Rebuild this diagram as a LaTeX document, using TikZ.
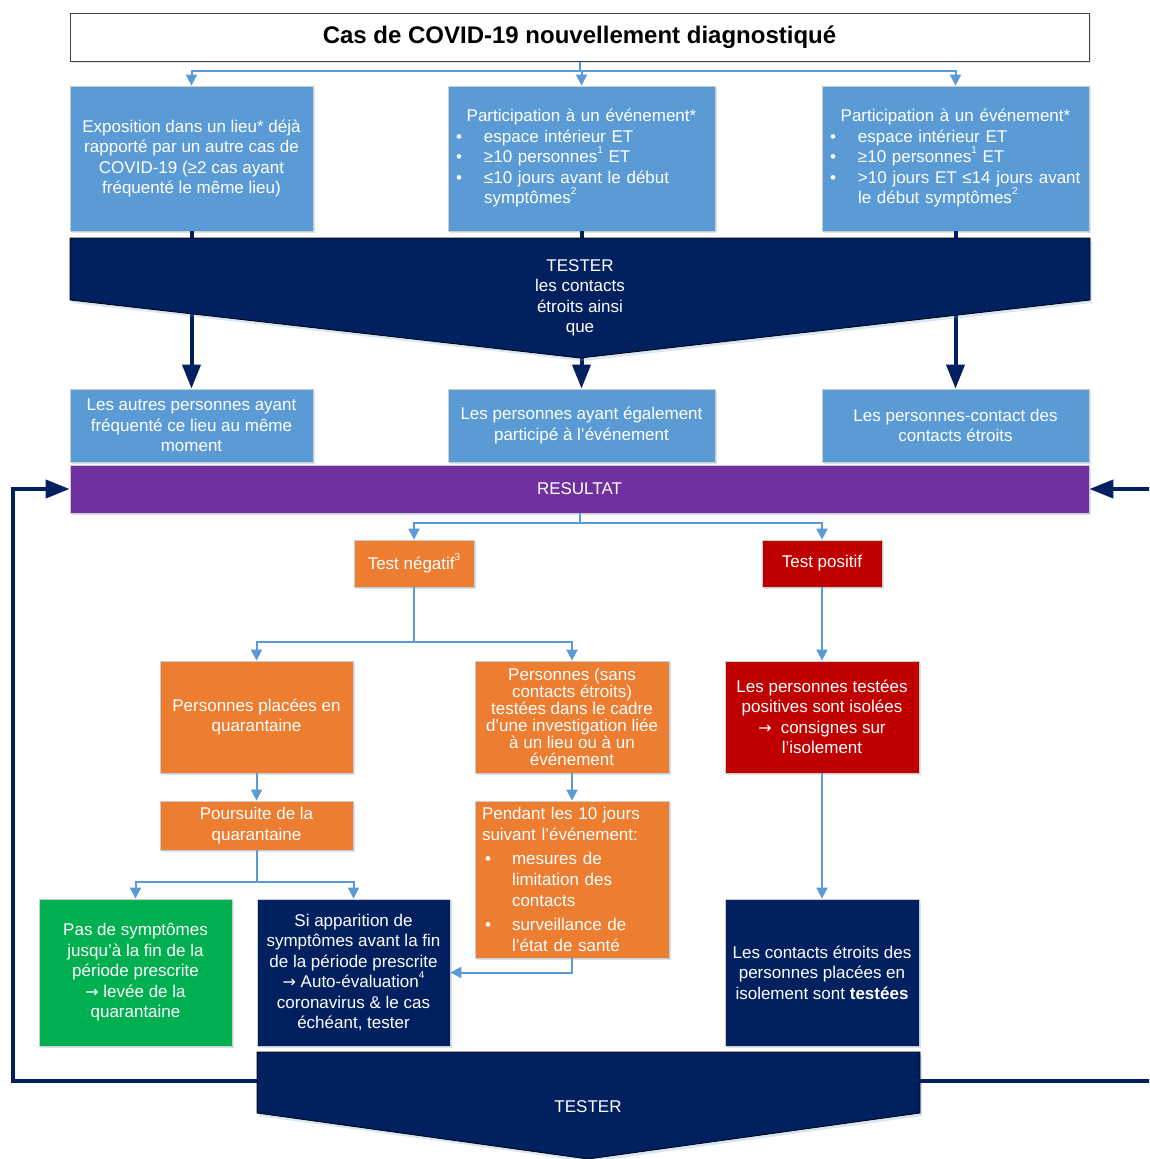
\documentclass[tikz,border=0pt]{standalone}
\usepackage{fontspec}
\setmainfont{Liberation Sans}
\newfontfamily\djv{DejaVu Sans}
\usetikzlibrary{arrows.meta,shadows}
\definecolor{lblue}{HTML}{5B9BD5}
\definecolor{navy}{HTML}{002060}
\definecolor{purp}{HTML}{7030A0}
\definecolor{orng}{HTML}{ED7D31}
\definecolor{dred}{HTML}{C00000}
\definecolor{grn}{HTML}{00B050}
\newcommand\supx[1]{\raisebox{0.55em}{\fontsize{10}{10}\selectfont #1}}
\newcommand\bul{\makebox[28pt][l]{•}}
\newcommand\bulind{\hspace*{28pt}}
\newcommand\bulp{\hspace*{3pt}\makebox[27pt][l]{•}}
\newcommand\bulpind{\hspace*{30pt}}
\newcommand\rarr{{\djv\fontsize{16}{16}\selectfont →}}
\begin{document}
\begin{tikzpicture}[x=1pt,y=-1pt,
  shd/.style={drop shadow={shadow xshift=2pt,shadow yshift=-2pt,fill=lblue,opacity=0.25}},
  box/.style={rectangle,draw=black!20,line width=0.8pt,text=white,align=center,inner sep=0pt,
    font=\fontsize{17}{20.5}\selectfont,shd},
  txt/.style={text=white,align=center,inner sep=0pt,font=\fontsize{17}{20.5}\selectfont},
  conn/.style={draw=lblue,line width=2pt},
  carr/.style={conn,-{Triangle[width=11pt,length=11pt]}},
  navline/.style={draw=navy,line width=4pt},
  navarr/.style={navline,-{Triangle[width=18pt,length=24pt]}}]
\useasboundingbox (0,0) rectangle (1149,1159);
\clip (0,0) rectangle (1149,1159);

% title
\node[rectangle,draw=black!75,line width=1pt,fill=white,minimum width=1019pt,minimum height=48pt,
  inner sep=0pt,font=\bfseries\fontsize{24}{28}\selectfont,
  drop shadow={shadow xshift=2pt,shadow yshift=-2pt,fill=lblue,opacity=0.2}] (title) at (579.5,37) {Cas de COVID-19 nouvellement diagnostiqué};

% row 1
\node[box,fill=lblue,minimum width=243pt,minimum height=145pt] (A) at (191.5,158.5)
  {Exposition dans un lieu* déjà\\rapporté par un autre cas de\\COVID-19 (≥2 cas ayant\\fréquenté le même lieu)};
\node[box,fill=lblue,minimum width=267pt,minimum height=145pt,text width=251pt,align=left] (B) at (581.5,158.5)
  {\makebox[251pt][c]{Participation à un événement*}\\
   \bul espace intérieur ET\\
   \bul ≥10 personnes\supx{1} ET\\
   \bul ≤10 jours avant le début\\
   \bulind symptômes\supx{2}};
\node[box,fill=lblue,minimum width=267pt,minimum height=145pt,text width=251pt,align=left] (C) at (955.5,158.5)
  {\makebox[251pt][c]{Participation à un événement*}\\
   \bul espace intérieur ET\\
   \bul ≥10 personnes\supx{1} ET\\
   \bul \mbox{>10 jours ET ≤14 jours avant}\\
   \bulind le début symptômes\supx{2}};

% row 2
\node[box,fill=lblue,minimum width=243pt,minimum height=73pt] (D) at (191.5,425.5)
  {Les autres personnes ayant\\fréquenté ce lieu au même\\moment};
\node[box,fill=lblue,minimum width=267pt,minimum height=73pt] (E) at (581.5,425.5)
  {Les personnes ayant également\\participé à l’événement};
\node[box,fill=lblue,minimum width=267pt,minimum height=73pt] (F) at (955.5,425.5)
  {Les personnes-contact des\\contacts étroits};

% resultat
\node[box,fill=purp,minimum width=1019pt,minimum height=48pt] (RES) at (579.5,489) {RESULTAT};

% tests
\node[box,fill=orng,minimum width=120pt,minimum height=47pt] (neg) at (414,563.5) {Test négatif\supx{3}};
\node[box,fill=dred,minimum width=120pt,minimum height=47pt] (pos) at (822,563.5) {Test positif};

% row 3
\node[box,fill=orng,minimum width=193pt,minimum height=112pt] (quar) at (256.5,717)
  {Personnes placées en\\quarantaine};
\node[box,fill=orng,minimum width=194pt,minimum height=112pt,font=\fontsize{17}{17}\selectfont] (sans) at (572,717)
  {Personnes (sans\\contacts étroits)\\testées dans le cadre\\d’une investigation liée\\à un lieu ou à un\\événement};
\node[box,fill=dred,minimum width=194pt,minimum height=112pt] (isol) at (822,717)
  {Les personnes testées\\positives sont isolées\\\rarr\hspace{9pt}consignes sur\\l’isolement};

% row 4
\node[box,fill=orng,minimum width=193pt,minimum height=49pt] (pours) at (256.5,825.5)
  {Poursuite de la\\quarantaine};
\node[box,fill=orng,minimum width=194pt,minimum height=157pt,text width=180pt,align=left,
  font=\fontsize{17}{21}\selectfont] (pend) at (572,879.5)
  {Pendant les 10 jours\\suivant l’événement:\\[3pt]
   \bulp mesures de\\
   \bulpind limitation des\\
   \bulpind contacts\\[3pt]
   \bulp surveillance de\\
   \bulpind l’état de santé};

% row 5
\node[box,fill=grn,minimum width=193pt,minimum height=147pt] (pas) at (135.5,972.5)
  {Pas de symptômes\\jusqu’à la fin de la\\période prescrite\\\rarr\ levée de la\\quarantaine};
\node[box,fill=navy,minimum width=193pt,minimum height=147pt] (si) at (353.5,972.5)
  {Si apparition de\\symptômes avant la fin\\de la période prescrite\\\rarr\ Auto-évaluation\supx{4}\\coronavirus \& le cas\\échéant, tester};
\node[box,fill=navy,minimum width=194pt,minimum height=147pt] (cont) at (822,972.5)
  {Les contacts étroits des\\personnes placées en\\isolement sont \textbf{testées}};

% blue connectors
\draw[conn] (title.south) -- ++(0,9) coordinate (tb);
\draw[carr] (tb) -| (A.north);
\draw[carr] (tb) -| (B.north);
\draw[carr] (tb) -| (C.north);
\draw[conn] (RES.south) -- ++(0,10) coordinate (rb);
\draw[carr] (rb) -| (neg.north);
\draw[carr] (rb) -| (pos.north);
\draw[conn] (neg.south) -- ++(0,55) coordinate (nb);
\draw[carr] (nb) -| (quar.north);
\draw[carr] (nb) -| (sans.north);
\draw[carr] (quar.south) -- (pours.north);
\draw[conn] (pours.south) -- ++(0,32) coordinate (pb);
\draw[carr] (pb) -| (pas.north);
\draw[carr] (pb) -| (si.north);
\draw[carr] (sans.south) -- (pend.north);
\draw[carr] (pend.south) |- (si.east);
\draw[carr] (pos.south) -- (isol.north);
\draw[carr] (isol.south) -- (cont.north);

% navy arrows under the top pentagon
\draw[navarr] (A.south) -- (D.north);
\draw[navarr] (B.south) -- (E.north);
\draw[navarr] (C.south) -- (F.north);

% top pentagon
\filldraw[fill=navy,draw=black,line width=0.8pt,
  drop shadow={shadow xshift=2pt,shadow yshift=-3pt,fill=lblue,opacity=0.25}]
  (70,238) -- (1090,238) -- (1090,300) -- (580,358) -- (70,300) -- cycle;
\node[txt] (test1) at (580,298) {TESTER\\les contacts\\étroits ainsi\\que};

% bottom pentagon
\filldraw[fill=navy,draw=black,line width=0.8pt,
  drop shadow={shadow xshift=2pt,shadow yshift=-3pt,fill=lblue,opacity=0.25}]
  (257,1052) -- (920,1052) -- (920,1113) -- (588,1159) -- (257,1113) -- cycle;
\node[txt] (test2) at (588,1107) {TESTER};
\coordinate (bl) at (257,1081);
\coordinate (br) at (920,1081);
\coordinate (lc) at (13,1081);
\coordinate (rc) at (1170,1081);
\draw[navarr] (bl) -- (lc) |- (RES.west);
\draw[navarr] (br) -- (rc) |- (RES.east);
\end{tikzpicture}
\end{document}
